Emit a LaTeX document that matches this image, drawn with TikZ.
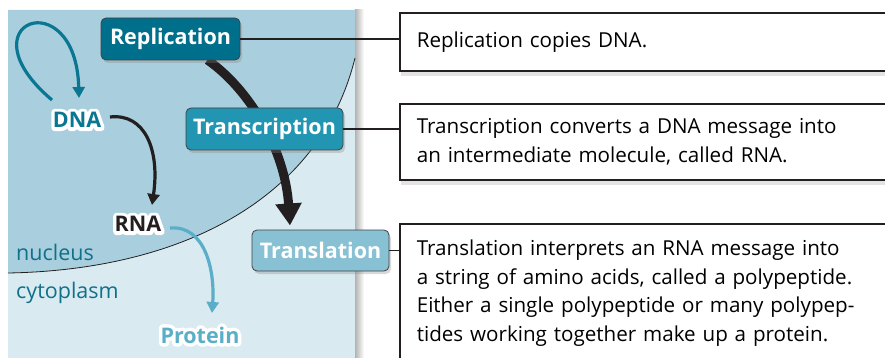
\documentclass[tikz,border=0pt]{standalone}
\usepackage{fontspec}
\setmainfont{Open Sans}
\usepackage{xcolor}
\usetikzlibrary{arrows.meta,shadows,backgrounds}
\definecolor{cellInk}{HTML}{231F20}
\definecolor{cellCyto}{HTML}{D9EAF1}
\definecolor{cellNucleus}{HTML}{A9CFDE}
\definecolor{cellTealDark}{HTML}{006F8B}
\definecolor{cellTeal}{HTML}{2195B1}
\definecolor{cellTealLight}{HTML}{88C1D4}
\definecolor{cellDna}{HTML}{0A7792}
\definecolor{cellProtein}{HTML}{5AAEC8}
\definecolor{cellLabel}{HTML}{10708A}
\newcommand{\notefont}{\fontsize{20.6}{28.5}\selectfont}
\newcommand{\placefont}{\fontsize{21.5}{24}\selectfont}
\newcommand{\stagefont}{\fontsize{21.5}{24}\selectfont\bfseries}
\newcommand{\molfont}{\fontsize{21.5}{24}\selectfont\bfseries}
% molecule name with a white outline stroked under it
\newcommand{\halolabel}[4]{%
  \node[mol,text=white] (#1halo) at (#2) {\special{pdf:code 2 Tr 7 w 1 j 1 1 1 RG}#4\special{pdf:code 0 Tr 1 w 0 j}};
  \node[mol,text=#3] (#1) at (#2) {#4};}

\begin{document}
\begin{tikzpicture}[
  x=1pt,y=-1pt,
  stage/.style={draw=cellInk!85,fill=#1,rounded corners=5pt,line width=0.8pt,text=white,font=\stagefont,minimum height=42pt,inner sep=0pt,drop shadow={opacity=.3,shadow xshift=2pt,shadow yshift=-3pt}},
  note/.style={draw=cellInk,line width=1.6pt,fill=white,anchor=north west,inner xsep=17pt,text width=470pt,align=left,font=\notefont,drop shadow={opacity=.22,shadow xshift=1pt,shadow yshift=-5pt}},
  mol/.style={font=\molfont,inner sep=1pt},
  link/.style={draw=cellInk,line width=1.6pt},
  flow/.style={line width=3.2pt,draw=#1,-{Triangle[length=11pt,width=12pt]}},
  bigflow/.style={line width=9pt,draw=cellInk,-{Triangle[length=22pt,width=25pt]}}
]
  \useasboundingbox (0,0) rectangle (885,358);

  % stages of information flow
  \node[stage=cellTealDark,minimum width=139pt] (repl) at (170.5,39) {Replication};
  \node[stage=cellTeal,minimum width=157pt] (transc) at (264.5,129) {Transcription};
  \node[stage=cellTealLight,minimum width=137pt,minimum height=41pt] (transl) at (320.5,250.5) {Translation};

  % explanations
  \node[note,minimum height=58pt] (noteRepl) at (399,12) {Replication copies DNA.};
  \node[note,minimum height=76pt] (noteTransc) at (399,103) {Transcription converts a DNA message into\\an intermediate molecule, called RNA.};
  \node[note,minimum height=139pt] (noteTransl) at (399,223) {Translation interprets an RNA message into\\a string of amino acids, called a polypeptide.\\Either a single polypeptide or many polypep-\\tides working together make up a protein.};

  \draw[link] (repl.east) -- (repl.east -| noteRepl.west);
  \draw[link] (transc.east) -- (transc.east -| noteTransc.west);
  \draw[link] (transl.east) -- (transl.east -| noteTransl.west);

  % molecules
  \halolabel{dna}{77,120}{cellDna}{DNA}
  \halolabel{rna}{138,224}{cellInk}{RNA}
  \halolabel{protein}{200,335}{cellProtein}{Protein}
  \node[anchor=base west,font=\placefont,text=cellLabel,inner sep=0pt] (nucLbl) at (16,260) {nucleus};
  \node[anchor=base west,font=\placefont,text=cellLabel,inner sep=0pt] (cytoLbl) at (16,298) {cytoplasm};

  \draw[flow=cellDna] ([shift={(-25,-20)}]dna.center) .. controls +(-92,-78) and +(-3,-118) .. ([shift={(2,-22)}]dna.center);
  \draw[flow=cellInk] ([shift={(33,-3)}]dna.center) .. controls +(35,-4) and +(8,-55) .. ([shift={(14,-19)}]rna.center);
  \draw[flow=cellProtein] ([shift={(32,4)}]rna.center) .. controls +(35,-3) and +(3,-43) .. ([shift={(12,-22)}]protein.center);

  \begin{scope}[on background layer]
    % cell panel
    \shade[left color=black!30,right color=white] (355,10) rectangle (364,358);
    \fill[cellCyto] (8,10) rectangle (355,360);
    \fill[cellNucleus] (8,10) -- (355,10) -- (355,58) .. controls (320,200) and (180,270) .. (8,273) -- cycle;
    \draw[cellInk,line width=0.8pt] (355,58) .. controls (320,200) and (180,270) .. (8,273);
    \draw[bigflow] ([shift={(37,21)}]repl.center) .. controls +(43,30) and +(-5,-75) .. ([shift={(-30.5,-25)}]transl.center);
  \end{scope}
\end{tikzpicture}
\end{document}
